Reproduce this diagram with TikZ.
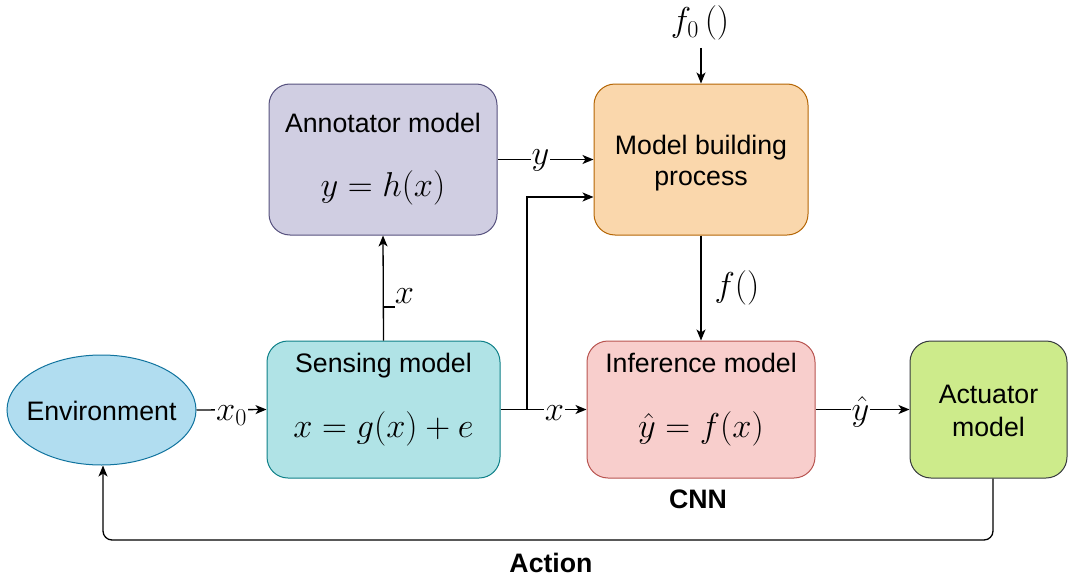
\documentclass[tikz,border=0pt]{standalone}
\usepackage{fix-cm}
\usepackage{fontspec}
\setmainfont{Liberation Sans}
\usetikzlibrary{arrows.meta,shapes.geometric,calc}
\definecolor{envfill}{HTML}{B1DDF0}\definecolor{envline}{HTML}{10739E}
\definecolor{annfill}{HTML}{D0CEE2}\definecolor{annline}{HTML}{56517E}
\definecolor{mbfill}{HTML}{FAD7AC}\definecolor{mbline}{HTML}{B46504}
\definecolor{senfill}{HTML}{B0E3E6}\definecolor{senline}{HTML}{0E8088}
\definecolor{inffill}{HTML}{F8CECC}\definecolor{infline}{HTML}{B85450}
\definecolor{actfill}{HTML}{CDEB8B}\definecolor{actline}{HTML}{36393D}
\begin{document}
\begin{tikzpicture}[x=1pt,y=-1pt,
  box/.style={draw, line width=1pt, rounded corners=21pt, inner sep=0pt},
  txt/.style={font=\fontsize{26.7}{32}\selectfont, inner sep=0pt, anchor=base},
  btxt/.style={font=\fontsize{26.7}{32}\selectfont\bfseries, inner sep=0pt, anchor=base},
  mth/.style={font=\fontsize{34.5}{41}\selectfont, inner sep=0pt, anchor=base},
  elab/.style={mth, fill=white, inner xsep=1pt},
  conn/.style={line width=1.3pt, -{Stealth[length=11pt,width=9pt,inset=3pt]}}]
\useasboundingbox (0,0) rectangle (1068,578);

% boxes
\node[box, ellipse, fill=envfill, draw=envline, minimum width=189pt, minimum height=110pt] (env) at (101.5,410) {};
\node[box, fill=annfill, draw=annline, minimum width=228pt, minimum height=151pt] (ann) at (383,159.5) {};
\node[box, fill=mbfill, draw=mbline, minimum width=214pt, minimum height=151pt] (mb) at (701,159.5) {};
\node[box, fill=senfill, draw=senline, minimum width=233pt, minimum height=137pt] (sen) at (383.5,409.5) {};
\node[box, fill=inffill, draw=infline, minimum width=228pt, minimum height=137pt] (inf) at (701,409.5) {};
\node[box, fill=actfill, draw=actline, minimum width=157pt, minimum height=137pt] (act) at (988.5,409.5) {};

% texts
\node[txt] (envt) at (101.5,420) {Environment};
\node[txt] (annt) at (383,132) {Annotator model};
\node[mth] (annf) at (383,196) {$y=h(x)$};
\node[txt] (mbt1) at (701,154) {Model building};
\node[txt] (mbt2) at (701,185) {process};
\node[txt] (sent) at (383.5,372) {Sensing model};
\node[mth] (senf) at (383.5,437) {$x=g(x)+e$};
\node[txt] (inft) at (701,372) {Inference model};
\node[mth] (inff) at (701,437) {$\hat{y}=f(x)$};
\node[txt] (actt1) at (988.5,403) {Actuator};
\node[txt] (actt2) at (988.5,436) {model};
\node[btxt] (cnn) at (698,508) {CNN};
\node[btxt] (action) at (551,572) {Action};
\node[mth] (f0) at (700,32) {$f_0\,()$};

% connectors
\coordinate (f0end) at (701,48);
\draw[conn] (f0end) -- (mb.north);
\draw[conn] (env.east) -- (sen.west);
\node[elab] (lx0) at (231.5,420) {$x_0$};
\draw[conn] (sen.east) -- (inf.west);
\node[elab] (lx1) at (554.5,420) {$x$};
\coordinate (br) at (527,409.5);
\coordinate (mbin) at ($(mb.west)+(0,37.5)$);
\draw[conn] (br) |- (mbin);
\draw[conn] (sen.north) -- (ann.south);
\draw[line width=1.3pt] (383,307) -- (395,307);
\node[mth] (lx2) at (404.5,303) {$x$};
\draw[conn] (ann.east) -- (mb.west);
\node[elab] (ly) at (540.5,164) {$y$};
\draw[conn] (mb.south) -- (inf.north);
\node[mth] (lf) at (737,296) {$f()$};
\draw[conn] (inf.east) -- (act.west);
\node[elab] (lyh) at (860.5,420) {$\hat{y}$};
\draw[conn, rounded corners=9pt] ([xshift=4.5pt]act.south) -- (993,540) -| ([xshift=1.5pt]env.south);
\end{tikzpicture}
\end{document}
